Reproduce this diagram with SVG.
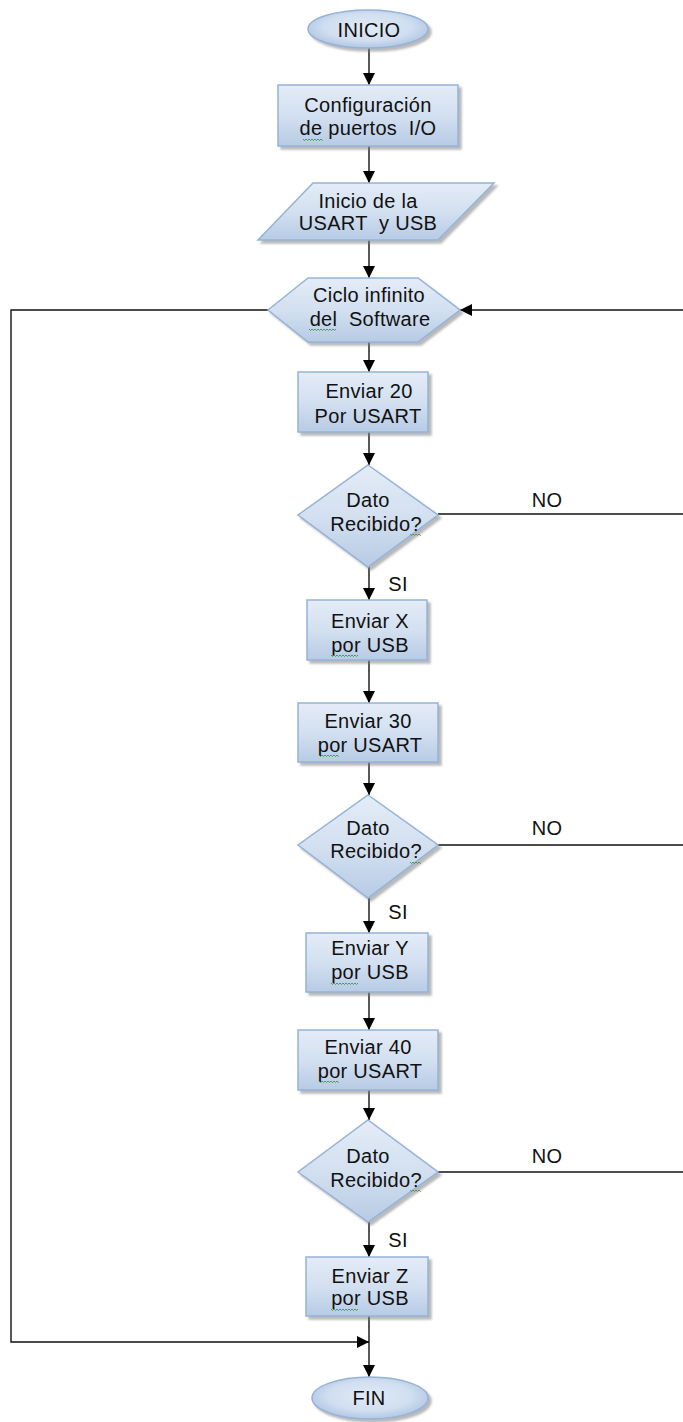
<svg xmlns="http://www.w3.org/2000/svg" xmlns:xlink="http://www.w3.org/1999/xlink" width="683" height="1422" viewBox="0 0 683 1422">
  <style>
    .shape { fill: url(#fillGrad); stroke: #95b3d7; stroke-width: 1.5; filter: url(#shadow); }
    .term { fill: url(#termGrad); stroke: #95b3d7; stroke-width: 1.5; filter: url(#shadow); }
    .lbl { font-family: "Liberation Sans", Arial, sans-serif; font-size: 20px; letter-spacing: 0.3px; fill: #111; text-anchor: middle; }
    .edge { fill: none; stroke: #111; stroke-width: 1.4; }
    .squiggle { fill: none; stroke: #3c9a3c; stroke-width: 0.9; }
  </style>
  <defs>
    <linearGradient id="fillGrad" x1="0" y1="0" x2="0" y2="1">
      <stop offset="0" stop-color="#e4ecf7"/>
      <stop offset="0.5" stop-color="#d3e0f0"/>
      <stop offset="1" stop-color="#b7cbe5"/>
    </linearGradient>
    <radialGradient id="termGrad" cx="0.5" cy="0.45" r="0.6">
      <stop offset="0" stop-color="#e2ebf6"/>
      <stop offset="0.6" stop-color="#d0def0"/>
      <stop offset="1" stop-color="#a9c1e0"/>
    </radialGradient>
    <filter id="shadow" x="-10%" y="-10%" width="125%" height="130%">
      <feGaussianBlur in="SourceAlpha" stdDeviation="1.2"/>
      <feOffset dx="3" dy="3" result="off"/>
      <feFlood flood-color="#808080" flood-opacity="0.55"/>
      <feComposite in2="off" operator="in"/>
      <feMerge>
        <feMergeNode/>
        <feMergeNode in="SourceGraphic"/>
      </feMerge>
    </filter>
    <marker id="arrow" viewBox="0 0 12 12" refX="12" refY="6" markerWidth="12" markerHeight="12" markerUnits="userSpaceOnUse" orient="auto">
      <path d="M0,0 L12,6 L0,12 Z" fill="#000"/>
    </marker>
    <!-- spell-check style wavy underline -->
    <path id="wave" class="squiggle" d="M0,0 l1.5,1.5 l1.5,-1.5 l1.5,1.5 l1.5,-1.5 l1.5,1.5 l1.5,-1.5 l1.5,1.5 l1.5,-1.5 l1.5,1.5 l1.5,-1.5 l1.5,1.5 l1.5,-1.5 l1.5,1.5 l1.5,-1.5 l1.5,1.5 l1.5,-1.5 l1.5,1.5 l1.5,-1.5"/>
    <clipPath id="w10"><rect x="0" y="-2" width="11" height="5"/></clipPath>
    <clipPath id="w20"><rect x="0" y="-2" width="20" height="5"/></clipPath>
    <clipPath id="w27"><rect x="0" y="-2" width="27" height="5"/></clipPath>
  </defs>

  <!-- connectors -->
  <g id="connectors">
    <path class="edge" d="M369,48 V85" marker-end="url(#arrow)"/>
    <path class="edge" d="M369,146 V183" marker-end="url(#arrow)"/>
    <path class="edge" d="M369,240 V278" marker-end="url(#arrow)"/>
    <path class="edge" d="M369,342 V372" marker-end="url(#arrow)"/>
    <path class="edge" d="M369,432 V465" marker-end="url(#arrow)"/>
    <path class="edge" d="M369,567 V600" marker-end="url(#arrow)"/>
    <path class="edge" d="M369,660 V703" marker-end="url(#arrow)"/>
    <path class="edge" d="M369,762 V795" marker-end="url(#arrow)"/>
    <path class="edge" d="M369,898 V933" marker-end="url(#arrow)"/>
    <path class="edge" d="M369,992 V1030" marker-end="url(#arrow)"/>
    <path class="edge" d="M369,1090 V1120" marker-end="url(#arrow)"/>
    <path class="edge" d="M369,1222 V1257" marker-end="url(#arrow)"/>
    <path class="edge" d="M369,1316 V1377" marker-end="url(#arrow)"/>
    <!-- exit of the loop down the left side -->
    <path class="edge" d="M268,310 H11 V1342 H369" marker-end="url(#arrow)"/>
    <!-- return into the loop from the right -->
    <path class="edge" d="M683,310 H460" marker-end="url(#arrow)"/>
    <path class="edge" d="M438,514 H683"/>
    <path class="edge" d="M438,845 H683"/>
    <path class="edge" d="M438,1172 H683"/>
    <text class="lbl" x="547" y="507">NO</text>
    <text class="lbl" x="547" y="835">NO</text>
    <text class="lbl" x="547" y="1163">NO</text>
    <text class="lbl" x="398" y="591">SI</text>
    <text class="lbl" x="398" y="919">SI</text>
    <text class="lbl" x="398" y="1247">SI</text>
  </g>

  <g id="inicio">
    <ellipse class="term" cx="368" cy="29" rx="60" ry="19"/>
    <text class="lbl" x="369" y="37">INICIO</text>
  </g>

  <g id="config">
    <rect class="shape" x="278" y="85" width="180" height="61"/>
    <text class="lbl" x="368" y="112">Configuración</text>
    <text class="lbl" x="368" y="135" xml:space="preserve">de puertos  I/O</text>
    <use href="#wave" clip-path="url(#w20)" transform="translate(303,139)"/>
  </g>

  <g id="init-usart">
    <polygon class="shape" points="313,183 494,183 438,240 258,240"/>
    <text class="lbl" x="368" y="208">Inicio de la</text>
    <text class="lbl" x="368" y="230" xml:space="preserve">USART  y USB</text>
  </g>

  <g id="loop">
    <polygon class="shape" points="268,310 308,278 418,278 460,310 418,342 308,342"/>
    <text class="lbl" x="369" y="302">Ciclo infinito</text>
    <text class="lbl" x="370" y="326" xml:space="preserve">del  Software</text>
    <use href="#wave" clip-path="url(#w27)" transform="translate(309,329)"/>
  </g>

  <g id="send20">
    <rect class="shape" x="298" y="372" width="130" height="60"/>
    <text class="lbl" x="369" y="398">Enviar 20</text>
    <text class="lbl" x="368" y="423">Por USART</text>
  </g>

  <g id="check1">
    <polygon class="shape" points="368,465 438,515 368,567 298,515"/>
    <text class="lbl" x="368" y="507">Dato</text>
    <text class="lbl" x="376" y="531">Recibido?</text>
    <use href="#wave" clip-path="url(#w10)" transform="translate(410,534)"/>
  </g>

  <g id="sendX">
    <rect class="shape" x="307" y="600" width="120" height="60"/>
    <text class="lbl" x="370" y="628">Enviar X</text>
    <text class="lbl" x="370" y="652">por USB</text>
    <use href="#wave" clip-path="url(#w27)" transform="translate(331,655)"/>
  </g>

  <g id="send30">
    <rect class="shape" x="298" y="703" width="140" height="59"/>
    <text class="lbl" x="368" y="728">Enviar 30</text>
    <text class="lbl" x="370" y="752">por USART</text>
    <use href="#wave" clip-path="url(#w20)" transform="translate(319,755)"/>
  </g>

  <g id="check2">
    <polygon class="shape" points="368,795 438,845 368,898 298,845"/>
    <text class="lbl" x="368" y="835">Dato</text>
    <text class="lbl" x="376" y="858">Recibido?</text>
    <use href="#wave" clip-path="url(#w10)" transform="translate(410,862)"/>
  </g>

  <g id="sendY">
    <rect class="shape" x="306" y="933" width="122" height="59"/>
    <text class="lbl" x="370" y="955">Enviar Y</text>
    <text class="lbl" x="370" y="979">por USB</text>
    <use href="#wave" clip-path="url(#w27)" transform="translate(331,983)"/>
  </g>

  <g id="send40">
    <rect class="shape" x="298" y="1030" width="140" height="60"/>
    <text class="lbl" x="368" y="1054">Enviar 40</text>
    <text class="lbl" x="370" y="1078">por USART</text>
    <use href="#wave" clip-path="url(#w20)" transform="translate(319,1081)"/>
  </g>

  <g id="check3">
    <polygon class="shape" points="368,1120 438,1172 368,1222 298,1172"/>
    <text class="lbl" x="368" y="1163">Dato</text>
    <text class="lbl" x="376" y="1187">Recibido?</text>
    <use href="#wave" clip-path="url(#w10)" transform="translate(410,1190)"/>
  </g>

  <g id="sendZ">
    <rect class="shape" x="306" y="1257" width="122" height="59"/>
    <text class="lbl" x="370" y="1283">Enviar Z</text>
    <text class="lbl" x="370" y="1305">por USB</text>
    <use href="#wave" clip-path="url(#w27)" transform="translate(331,1309)"/>
  </g>

  <g id="fin">
    <ellipse class="term" cx="370" cy="1398" rx="58" ry="21"/>
    <text class="lbl" x="369" y="1405">FIN</text>
  </g>
</svg>
